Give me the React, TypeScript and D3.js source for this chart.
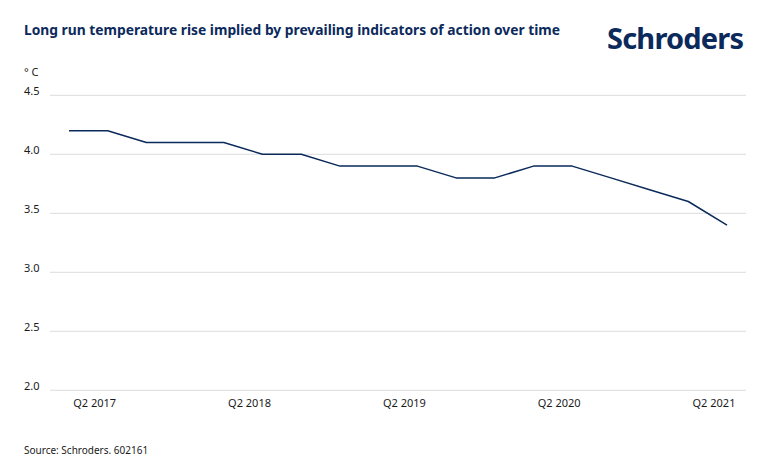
import React, { useEffect, useRef } from "react";
import * as d3 from "d3";

// quarterly readings, Q1 2017 .. Q2 2021
const quarters = [
  "Q1 2017", "Q2 2017", "Q3 2017", "Q4 2017",
  "Q1 2018", "Q2 2018", "Q3 2018", "Q4 2018",
  "Q1 2019", "Q2 2019", "Q3 2019", "Q4 2019",
  "Q1 2020", "Q2 2020", "Q3 2020", "Q4 2020",
  "Q1 2021", "Q2 2021",
];
const tempRise = [
  4.2, 4.2, 4.1, 4.1, 4.1, 4.0, 4.0, 3.9, 3.9, 3.9, 3.8, 3.8, 3.9, 3.9, 3.8, 3.7, 3.6, 3.4,
];
const xTickLabels = ["Q2 2017", "Q2 2018", "Q2 2019", "Q2 2020", "Q2 2021"];
const yTicks = [2.0, 2.5, 3.0, 3.5, 4.0, 4.5];

const navy = "#0b2a5b";
const font = "'Noto Sans', sans-serif";

export default function App() {
  const ref = useRef<SVGSVGElement | null>(null);

  useEffect(() => {
    const el = ref.current;
    if (!el) return;
    const svg = d3.select(el);
    svg.selectAll("*").remove();

    const width = 770;
    const height = 476;

    svg
      .append("rect")
      .attr("width", width)
      .attr("height", height)
      .attr("fill", "#fff");

    svg
      .append("text")
      .attr("x", 24)
      .attr("y", 35)
      .attr("fill", navy)
      .attr("font-family", font)
      .attr("font-weight", 700)
      .attr("font-size", 13.8)
      .text("Long run temperature rise implied by prevailing indicators of action over time");

    svg
      .append("text")
      .attr("x", 607)
      .attr("y", 49)
      .attr("fill", navy)
      .attr("font-family", font)
      .attr("font-weight", 700)
      .attr("font-size", 29)
      .attr("letter-spacing", -0.8)
      .text("Schroders");

    const x = d3
      .scaleLinear()
      .domain([0, quarters.length - 1])
      .range([69, 727]);

    const y = d3.scaleLinear().domain([2, 4.5]).range([390.3, 95.3]);

    // gridlines + y labels
    const gy = svg.append("g");
    gy.selectAll("line")
      .data(yTicks)
      .join("line")
      .attr("x1", 50)
      .attr("x2", 746)
      .attr("y1", (d) => y(d))
      .attr("y2", (d) => y(d))
      .attr("stroke", "#dcdcdc")
      .attr("stroke-width", 1);
    gy.selectAll("text")
      .data(yTicks)
      .join("text")
      .attr("x", 24)
      .attr("y", (d) => y(d))
      .attr("fill", "#1a1a1a")
      .attr("font-family", font)
      .attr("font-size", 11)
      .text((d) => d.toFixed(1));

    svg
      .append("text")
      .attr("x", 24)
      .attr("y", 76)
      .attr("fill", "#1a1a1a")
      .attr("font-family", font)
      .attr("font-size", 11)
      .text("° C");

    // x labels
    svg
      .append("g")
      .selectAll("text")
      .data(xTickLabels)
      .join("text")
      .attr("x", (d) => x(quarters.indexOf(d)) - 13)
      .attr("y", 407)
      .attr("text-anchor", "middle")
      .attr("fill", "#1a1a1a")
      .attr("font-family", font)
      .attr("font-size", 11)
      .text((d) => d);

    const line = d3
      .line<number>()
      .x((_, i) => x(i))
      .y((d) => y(d));

    svg
      .append("path")
      .datum(tempRise)
      .attr("d", line)
      .attr("fill", "none")
      .attr("stroke", navy)
      .attr("stroke-width", 1.5)
      .attr("stroke-linejoin", "round");

    svg
      .append("text")
      .attr("x", 24)
      .attr("y", 454)
      .attr("fill", "#1a1a1a")
      .attr("font-family", font)
      .attr("font-size", 10)
      .text("Source: Schroders. 602161");
  }, []);

  return (
    <div style={{ margin: -8 }}>
      <svg ref={ref} width={770} height={476} style={{ display: "block" }} />
    </div>
  );
}
